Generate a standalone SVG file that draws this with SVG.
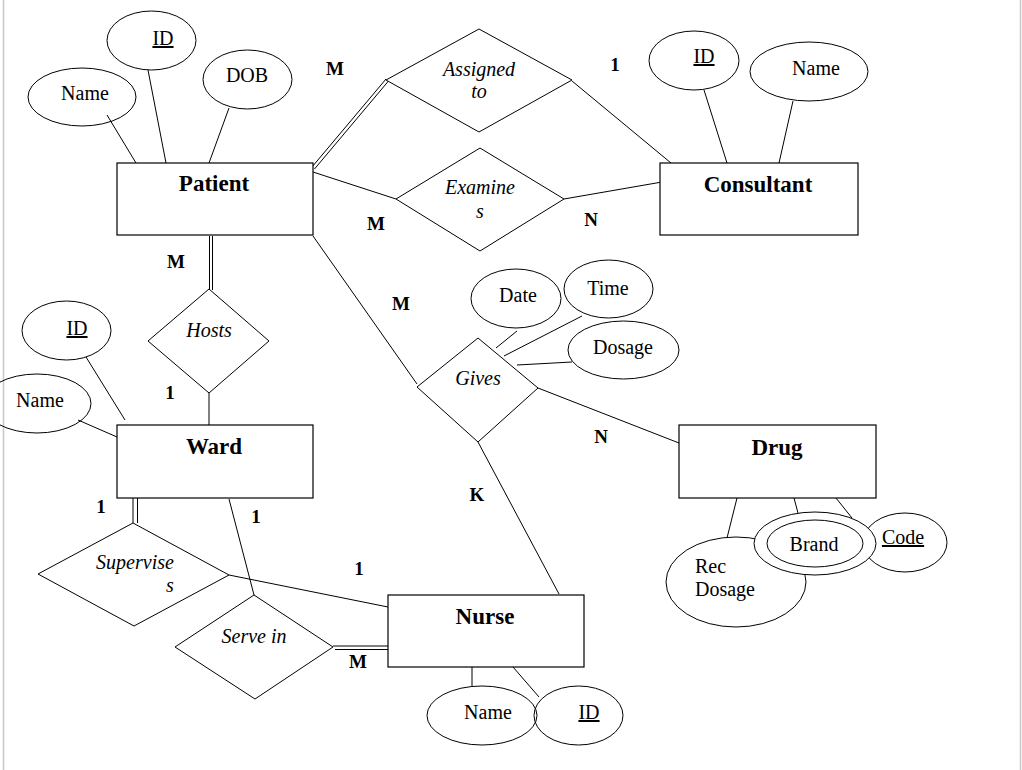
<svg xmlns="http://www.w3.org/2000/svg" width="1022" height="770" viewBox="0 0 1022 770">
<style>
  .ent { fill: #fff; stroke: #000; stroke-width: 1.2; }
  .att { fill: none; stroke: #000; stroke-width: 1; }
  .attw { fill: #fff; stroke: #000; stroke-width: 1; }
  .rel { fill: #fff; stroke: #000; stroke-width: 1; }
  .ln { stroke: #000; stroke-width: 1; fill: none; }
  .border { stroke: #c8c8c8; stroke-width: 1.5; }
  text { font-family: "Liberation Serif", "Times New Roman", serif; fill: #000; }
  .et { font-size: 23px; font-weight: bold; text-anchor: middle; }
  .at { font-size: 20px; text-anchor: middle; }
  .rt { font-size: 20px; font-style: italic; text-anchor: middle; }
  .card { font-size: 19px; font-weight: bold; text-anchor: middle; }
  .key { text-decoration: underline; }
</style>
<rect x="0" y="0" width="1022" height="770" fill="#fff"/>
<line class="border" x1="3.5" y1="0" x2="3.5" y2="770"/>
<line class="border" x1="1020.5" y1="0" x2="1020.5" y2="770"/>

<g id="connectors">
  <!-- Patient attributes -->
  <line class="ln" x1="107" y1="115" x2="136" y2="163"/>
  <line class="ln" x1="148" y1="70" x2="166" y2="163"/>
  <line class="ln" x1="229" y1="108" x2="209" y2="163"/>
  <!-- Patient - Assigned to (double) -->
  <line class="ln" x1="312" y1="167" x2="386" y2="79"/>
  <line class="ln" x1="314.5" y1="169" x2="388.5" y2="81"/>
  <!-- Assigned to - Consultant -->
  <line class="ln" x1="572" y1="81" x2="671" y2="163"/>
  <!-- Patient - Examines - Consultant -->
  <line class="ln" x1="313" y1="172" x2="396" y2="199"/>
  <line class="ln" x1="564" y1="199" x2="662" y2="182"/>
  <!-- Consultant attributes -->
  <line class="ln" x1="704" y1="90" x2="727" y2="163"/>
  <line class="ln" x1="793" y1="101" x2="779" y2="163"/>
  <!-- Patient - Hosts (double) -->
  <line class="ln" x1="209.5" y1="236" x2="209.5" y2="290"/>
  <line class="ln" x1="212.5" y1="236" x2="212.5" y2="290"/>
  <!-- Hosts - Ward -->
  <line class="ln" x1="209" y1="393" x2="209" y2="425"/>
  <!-- Ward attributes -->
  <line class="ln" x1="86" y1="357" x2="125" y2="420"/>
  <line class="ln" x1="78" y1="420" x2="117" y2="437"/>
  <!-- Patient - Gives -->
  <line class="ln" x1="313" y1="236" x2="417" y2="384"/>
  <!-- Gives attributes -->
  <line class="ln" x1="517" y1="331" x2="496" y2="348"/>
  <line class="ln" x1="582" y1="316" x2="504" y2="356"/>
  <line class="ln" x1="572" y1="362" x2="517" y2="365"/>
  <!-- Gives - Drug -->
  <line class="ln" x1="538" y1="388" x2="679" y2="443"/>
  <!-- Gives - Nurse -->
  <line class="ln" x1="478" y1="442" x2="559" y2="594"/>
  <!-- Drug attributes -->
  <line class="ln" x1="737" y1="498" x2="727" y2="538"/>
  <line class="ln" x1="794" y1="498" x2="798" y2="513"/>
  <line class="ln" x1="836" y1="498" x2="852" y2="518"/>
  <!-- Ward - Supervises (double) -->
  <line class="ln" x1="133" y1="498" x2="133" y2="523"/>
  <line class="ln" x1="137.5" y1="498" x2="137.5" y2="523"/>
  <!-- Ward - Serve in -->
  <line class="ln" x1="229" y1="499" x2="254" y2="595"/>
  <!-- Supervises - Nurse -->
  <line class="ln" x1="229" y1="575" x2="388" y2="607"/>
  <!-- Serve in - Nurse (double) -->
  <line class="ln" x1="333" y1="646" x2="388" y2="646"/>
  <line class="ln" x1="335" y1="649.5" x2="388" y2="649.5"/>
  <!-- Nurse attributes -->
  <line class="ln" x1="472" y1="667" x2="472" y2="687"/>
  <line class="ln" x1="513" y1="667" x2="539" y2="697"/>
</g>

<g id="patient">
  <rect class="ent" x="117" y="163" width="196" height="72"/>
  <text class="et" x="214" y="191">Patient</text>
</g>
<g id="patient-name">
  <ellipse class="att" cx="82" cy="97" rx="54" ry="29"/>
  <text class="at" x="85" y="100">Name</text>
</g>
<g id="patient-id">
  <ellipse class="att" cx="151.5" cy="40.5" rx="44.5" ry="29.5"/>
  <text class="at key" x="163" y="45">ID</text>
</g>
<g id="patient-dob">
  <ellipse class="att" cx="247.5" cy="79.5" rx="44.5" ry="29.5"/>
  <text class="at" x="247" y="82">DOB</text>
</g>

<g id="assigned-to">
  <polygon class="rel" points="386,80 479,29 572,80 479,132"/>
  <text class="rt" x="479" y="76">Assigned</text>
  <text class="rt" x="479" y="98">to</text>
</g>
<g id="examines">
  <polygon class="rel" points="396,199 480,148 564,199 480,251"/>
  <text class="rt" x="480" y="194">Examine</text>
  <text class="rt" x="480" y="218">s</text>
</g>

<g id="consultant">
  <rect class="ent" x="660" y="163" width="198" height="72"/>
  <text class="et" x="758" y="192">Consultant</text>
</g>
<g id="consultant-id">
  <ellipse class="att" cx="694" cy="60.5" rx="45" ry="29.5"/>
  <text class="at key" x="704" y="63">ID</text>
</g>
<g id="consultant-name">
  <ellipse class="att" cx="809" cy="71.5" rx="59" ry="29.5"/>
  <text class="at" x="816" y="75">Name</text>
</g>

<g id="hosts">
  <polygon class="rel" points="209,289 269,341 209,393 148,341"/>
  <text class="rt" x="209" y="337">Hosts</text>
</g>

<g id="ward">
  <rect class="ent" x="117" y="425" width="196" height="73"/>
  <text class="et" x="214" y="454">Ward</text>
</g>
<g id="ward-id">
  <ellipse class="att" cx="66.5" cy="330.5" rx="44.5" ry="29.5"/>
  <text class="at key" x="77" y="335">ID</text>
</g>
<g id="ward-name">
  <ellipse class="att" cx="37" cy="403.5" rx="54" ry="29.5"/>
  <text class="at" x="40" y="407">Name</text>
</g>

<g id="gives">
  <polygon class="rel" points="417,387 478,338 538,388 478,442"/>
  <text class="rt" x="478" y="385">Gives</text>
</g>
<g id="gives-date">
  <ellipse class="att" cx="516" cy="298.5" rx="45" ry="29.5"/>
  <text class="at" x="518" y="302">Date</text>
</g>
<g id="gives-time">
  <ellipse class="att" cx="608.5" cy="289" rx="44.5" ry="29"/>
  <text class="at" x="608" y="295">Time</text>
</g>
<g id="gives-dosage">
  <ellipse class="att" cx="623.5" cy="350" rx="55.5" ry="29"/>
  <text class="at" x="623" y="354">Dosage</text>
</g>

<g id="drug">
  <rect class="ent" x="679" y="425" width="197" height="73"/>
  <text class="et" x="777" y="455">Drug</text>
</g>
<g id="drug-recdosage">
  <ellipse class="att" cx="736" cy="582" rx="70" ry="45"/>
  <text class="at" x="695" y="573" style="text-anchor:start">Rec</text>
  <text class="at" x="695" y="596" style="text-anchor:start">Dosage</text>
</g>
<g id="drug-code">
  <ellipse class="att" cx="905" cy="542.5" rx="42" ry="29.5"/>
  <text class="at key" x="903" y="544">Code</text>
</g>
<g id="drug-brand">
  <ellipse class="attw" cx="815" cy="543.5" rx="61" ry="31.5"/>
  <ellipse class="att" cx="815" cy="543.5" rx="48" ry="23.5"/>
  <text class="at" x="814" y="551">Brand</text>
</g>

<g id="supervises">
  <polygon class="rel" points="133,523 229,575 134,626 38,574"/>
  <text class="rt" x="135" y="569">Supervise</text>
  <text class="rt" x="170" y="592">s</text>
</g>
<g id="serve-in">
  <polygon class="rel" points="254,595 333,647 255,699 175,647"/>
  <text class="rt" x="254" y="643">Serve in</text>
</g>

<g id="nurse">
  <rect class="ent" x="388" y="595" width="196" height="72"/>
  <text class="et" x="485" y="624">Nurse</text>
</g>
<g id="nurse-name">
  <ellipse class="att" cx="482" cy="715.5" rx="55" ry="29.5"/>
  <text class="at" x="488" y="719">Name</text>
</g>
<g id="nurse-id">
  <ellipse class="att" cx="578.5" cy="715.5" rx="44.5" ry="29.5"/>
  <text class="at key" x="589" y="719">ID</text>
</g>

<g id="cardinalities">
  <text class="card" x="335" y="75">M</text>
  <text class="card" x="615" y="71">1</text>
  <text class="card" x="376" y="230">M</text>
  <text class="card" x="591" y="226">N</text>
  <text class="card" x="176" y="268">M</text>
  <text class="card" x="170" y="399">1</text>
  <text class="card" x="401" y="310">M</text>
  <text class="card" x="601" y="443">N</text>
  <text class="card" x="477" y="501">K</text>
  <text class="card" x="101" y="513">1</text>
  <text class="card" x="256" y="523">1</text>
  <text class="card" x="359" y="575">1</text>
  <text class="card" x="358" y="668">M</text>
</g>
</svg>
